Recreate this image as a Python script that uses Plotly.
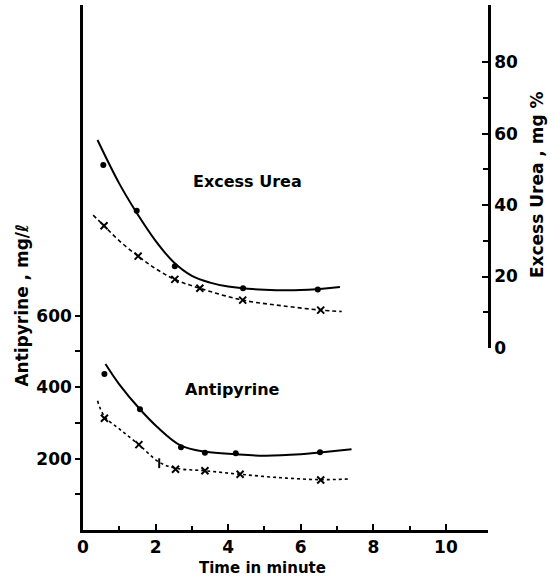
import plotly.graph_objects as go

# =========================
# DATOS
# =========================
# Excess Urea (eje derecho, mg %)
t_urea_dot = [0.56, 1.48, 2.53, 4.41, 6.47]
urea_dot = [51.2, 38.4, 22.9, 16.7, 16.4]
t_urea_x = [0.58, 1.52, 2.53, 3.22, 4.40, 6.55]
urea_x = [34.2, 25.7, 19.2, 16.7, 13.4, 10.6]

t_urea_fit = [0.40, 1.0, 1.5, 2.0, 2.5, 3.0, 3.5, 4.0, 5.0, 6.0, 7.08]
urea_fit = [58.2, 46.0, 37.5, 30.0, 24.0, 20.2, 18.3, 17.2, 16.3, 16.2, 17.1]
t_urea_fit2 = [0.28, 0.58, 1.0, 1.52, 2.0, 2.53, 3.22, 4.40, 5.5, 6.55, 7.13]
urea_fit2 = [37.2, 34.2, 30.0, 25.7, 22.2, 19.2, 16.7, 13.4, 11.8, 10.6, 10.2]

# Antipyrine (eje izquierdo, mg/l)
t_anti_dot = [0.59, 1.57, 2.70, 3.36, 4.21, 6.53]
anti_dot = [437, 338, 232, 216, 215, 218]
t_anti_x = [0.59, 1.54, 2.10, 2.55, 3.36, 4.33, 6.55]
anti_x = [313, 239, 187, 170, 166, 156, 140]

t_anti_fit = [0.62, 1.0, 1.57, 2.03, 2.70, 3.38, 4.2, 5.0, 6.0, 6.53, 7.40]
anti_fit = [465, 408, 338, 290, 236, 219, 212, 208, 212, 217, 226]
t_anti_fit2 = [0.40, 0.59, 1.0, 1.54, 2.10, 2.55, 3.36, 4.33, 5.5, 6.55, 7.36]
anti_fit2 = [362, 318, 283, 239, 190, 173, 166, 156, 146, 141, 143]

x_ticks = [0, 2, 4, 6, 8, 10]
y_left_ticks = [200, 400, 600]
y_right_ticks = [0, 20, 40, 60, 80]

FONT = "DejaVu Sans"
NEGRO = "black"

fig = go.Figure()

# Curvas ajustadas
fig.add_trace(go.Scatter(x=t_urea_fit, y=urea_fit, yaxis="y2", mode="lines",
                         line=dict(color=NEGRO, width=2, shape="spline")))
fig.add_trace(go.Scatter(x=t_urea_fit2, y=urea_fit2, yaxis="y2", mode="lines",
                         line=dict(color=NEGRO, width=1.6, shape="spline", dash="4px,3px")))
fig.add_trace(go.Scatter(x=t_anti_fit, y=anti_fit, mode="lines",
                         line=dict(color=NEGRO, width=2, shape="spline")))
fig.add_trace(go.Scatter(x=t_anti_fit2, y=anti_fit2, mode="lines",
                         line=dict(color=NEGRO, width=1.6, shape="spline", dash="3px,3px")))

# Puntos medidos
fig.add_trace(go.Scatter(x=t_urea_dot, y=urea_dot, yaxis="y2", mode="markers",
                         marker=dict(color=NEGRO, size=6, symbol="circle")))
fig.add_trace(go.Scatter(x=t_urea_x, y=urea_x, yaxis="y2", mode="markers",
                         marker=dict(color=NEGRO, size=7, symbol="x-thin",
                                     line=dict(color=NEGRO, width=2))))
fig.add_trace(go.Scatter(x=t_anti_dot, y=anti_dot, mode="markers",
                         marker=dict(color=NEGRO, size=6, symbol="circle")))
simbolos = ["x-thin" if t != 2.10 else "line-ns" for t in t_anti_x]
fig.add_trace(go.Scatter(x=t_anti_x, y=anti_x, mode="markers",
                         marker=dict(color=NEGRO, size=7, symbol=simbolos,
                                     line=dict(color=NEGRO, width=2))))

# Textos
def texto(x, y, s, size=16, angle=0):
    fig.add_annotation(x=x, y=y, xref="paper", yref="paper", text=s,
                       showarrow=False, textangle=angle,
                       xanchor="center", yanchor="middle",
                       font=dict(family=FONT, size=size, color=NEGRO, weight="bold"))

texto(0.405, 0.663, "Excess Urea", size=16)
texto(0.37, 0.267, "Antipyrine", size=16)
texto(-0.151, 0.429, "Antipyrine , mg/ℓ", size=17, angle=-90)
texto(1.121, 0.657, "Excess Urea , mg %", size=17, angle=-90)
texto(0.442, -0.073, "Time in minute", size=15)

tick_font = dict(family=FONT, size=17, weight="bold")

fig.update_layout(
    width=556, height=578,
    margin=dict(l=83, r=68, t=5, b=48, autoexpand=False),
    plot_bgcolor="white", paper_bgcolor="white",
    showlegend=False,
    font=dict(family=FONT, color=NEGRO),
    xaxis=dict(
        range=[0, 11.16], showgrid=False, zeroline=False, automargin=False,
        showline=True, linecolor=NEGRO, linewidth=2.5,
        tickvals=x_ticks, ticktext=[str(v) for v in x_ticks],
        ticks="inside", ticklen=6, tickwidth=1.5, tickcolor=NEGRO,
        minor=dict(tickvals=[1, 3, 5, 7, 9], ticks="inside", ticklen=4,
                   tickwidth=1.5, tickcolor=NEGRO, showgrid=False),
        tickfont=tick_font,
    ),
    yaxis=dict(
        range=[0, 1470], showgrid=False, zeroline=False, automargin=False,
        showline=True, linecolor=NEGRO, linewidth=2.5,
        tickvals=y_left_ticks, ticktext=[str(v) for v in y_left_ticks],
        ticks="outside", ticklen=5, tickwidth=1.5, tickcolor=NEGRO,
        minor=dict(tickvals=[100, 300, 500], ticks="outside", ticklen=5,
                   tickwidth=1.5, tickcolor=NEGRO, showgrid=False),
        tickfont=tick_font,
    ),
    yaxis2=dict(
        domain=[0.3467, 1], anchor="x", side="right",
        range=[0, 96], showgrid=False, zeroline=False, automargin=False,
        showline=True, linecolor=NEGRO, linewidth=2.5,
        tickvals=y_right_ticks, ticktext=[str(v) for v in y_right_ticks],
        ticks="inside", ticklen=6, tickwidth=1.5, tickcolor=NEGRO,
        minor=dict(tickvals=[10, 30, 50, 70], ticks="inside", ticklen=5,
                   tickwidth=1.5, tickcolor=NEGRO, showgrid=False),
        tickfont=tick_font,
    ),
)

# quitar el margen por defecto del <body> para que la figura quede en (0, 0)
fig.write_html("out.html", config={"displayModeBar": False},
               post_script="document.body.style.margin='0';")
